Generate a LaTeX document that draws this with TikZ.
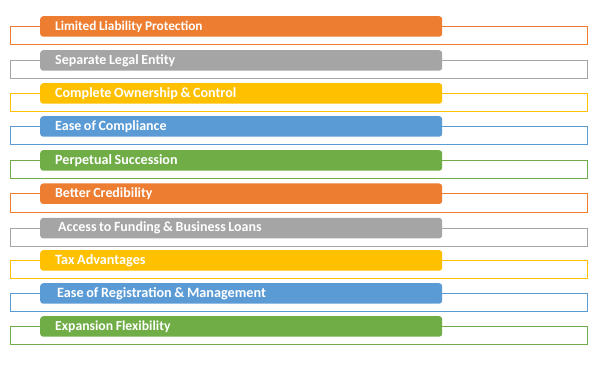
\documentclass[tikz,border=0pt]{standalone}
\usepackage{fontspec}
\setmainfont{Carlito}
\definecolor{cOrange}{HTML}{ED7D31}
\definecolor{cGray}{HTML}{A5A5A5}
\definecolor{cYellow}{HTML}{FFC000}
\definecolor{cBlue}{HTML}{5B9BD5}
\definecolor{cGreen}{HTML}{70AD47}
\begin{document}
\begin{tikzpicture}[x=1pt,y=-1pt,
  bar/.style={fill=#1, draw=none, rounded corners=3pt, anchor=north west,
    minimum width=402pt, minimum height=20.5pt, text width=372pt, inner xsep=15pt,
    inner ysep=0pt, align=left, text=white},
  frame/.style={draw=#1, line width=1pt}]
\useasboundingbox (0,0) rectangle (602,366);
\newcommand{\featrow}[6]{%
  % #1 name, #2 y top, #3 colour, #4 text, #5 extra text indent, #6 font size
  \node[bar=#3, font=\fontsize{#6}{15}\selectfont\bfseries] (#1) at (40,#2)
    {\spaceskip=2.6pt plus 0.6pt\relax\hspace*{#5}\raisebox{-1.2pt}{#4}};
  \draw[frame=#3] (#1.west) -- ++(-29.5,0) -- ++(0,18.5) -| ([xshift=145.5pt]#1.east) -- (#1.east);
}
\featrow{r1}{16}{cOrange}{Limited Liability Protection}{0pt}{13.3}
\featrow{r2}{50}{cGray}{Separate Legal Entity}{0pt}{14}
\featrow{r3}{83}{cYellow}{Complete Ownership \& Control}{0pt}{14.1}
\featrow{r4}{116}{cBlue}{Ease of Compliance}{0pt}{14}
\featrow{r5}{150}{cGreen}{Perpetual Succession}{0pt}{14.1}
\featrow{r6}{183.3}{cOrange}{Better Credibility}{0pt}{13.9}
\featrow{r7}{217.7}{cGray}{Access to Funding \& Business Loans}{3pt}{14}
\featrow{r8}{250}{cYellow}{Tax Advantages}{0pt}{14.2}
\featrow{r9}{283}{cBlue}{Ease of Registration \& Management}{2pt}{14.2}
\featrow{r10}{316}{cGreen}{Expansion Flexibility}{0pt}{13.7}
\end{tikzpicture}
\end{document}
